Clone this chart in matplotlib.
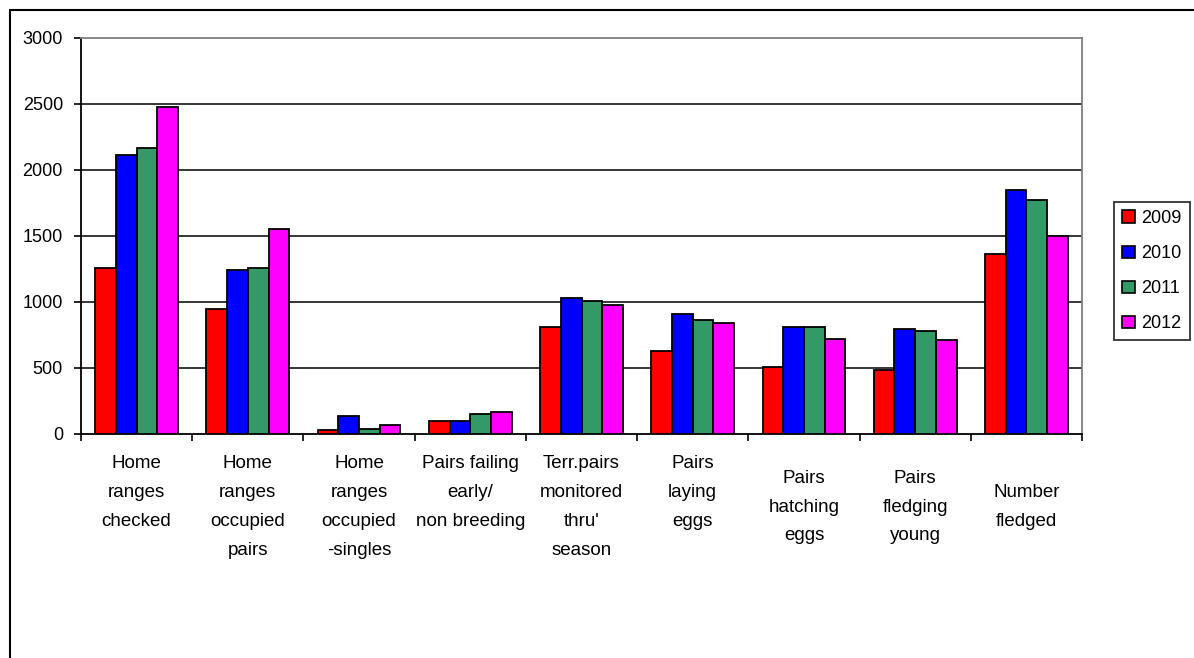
import matplotlib
matplotlib.use("Agg")
import matplotlib.pyplot as plt
import numpy as np
from matplotlib.patches import Patch, Rectangle
from matplotlib.transforms import blended_transform_factory

plt.rcParams["font.family"] = ["Liberation Sans", "DejaVu Sans"]

# 各カテゴリ（改行は表示用）
categories = [
    "Home\nranges\nchecked\n",
    "Home\nranges\noccupied\npairs",
    "Home\nranges\noccupied\n-singles",
    "Pairs failing\nearly/\nnon breeding\n",
    "Terr.pairs\nmonitored\nthru'\nseason",
    "Pairs\nlaying\neggs\n",
    "Pairs\nhatching\neggs",
    "Pairs\nfledging\nyoung",
    "Number\nfledged",
]
years = ["2009", "2010", "2011", "2012"]
v2009 = [1260, 950, 30, 100, 808, 626, 511, 488, 1362]
v2010 = [2110, 1245, 140, 100, 1034, 906, 809, 794, 1845]
v2011 = [2165, 1260, 40, 155, 1004, 866, 809, 779, 1770]
v2012 = [2480, 1556, 70, 170, 975, 838, 722, 710, 1500]
colors = ["#FF0000", "#0000FF", "#339966", "#FF00FF"]

W, H = 1194, 658
fig = plt.figure(figsize=(W / 100, H / 100), dpi=100)
ax = fig.add_axes([81 / W, 1 - 434 / H, 1001 / W, 396 / H])

# 棒グラフ
x = np.arange(len(categories)) + 0.5
bw = 0.186
for i, vals in enumerate([v2009, v2010, v2011, v2012]):
    ax.bar(x + (i - 1.5) * bw, vals, width=bw, color=colors[i],
           edgecolor="black", linewidth=1.3, zorder=3)

ax.set_xlim(0, len(categories))
ax.set_ylim(0, 3000)
ax.set_yticks(np.arange(0, 3001, 500))
ax.set_xticks(np.arange(0, len(categories) + 1))
ax.set_xticklabels([])
ax.tick_params(axis="y", direction="out", length=5, width=1.2, pad=8, labelsize=13)
ax.tick_params(axis="x", direction="out", length=5, width=1.2)

# 目盛線
for yv in range(500, 3000, 500):
    ax.axhline(yv, color="black", lw=1.1, zorder=1)

ax.spines["left"].set_color("black")
ax.spines["bottom"].set_color("black")
ax.spines["top"].set_color("#808080")
ax.spines["right"].set_color("#808080")
for s in ax.spines.values():
    s.set_linewidth(1.3)

# カテゴリ名
trans = blended_transform_factory(ax.transData, fig.transFigure)
for xi, lab in zip(x, categories):
    ax.text(xi, 1 - 507 / H, lab, transform=trans, ha="center", va="center",
            multialignment="center", fontsize=13.5, linespacing=1.9)

# 凡例
handles = [Patch(facecolor=c, edgecolor="black", linewidth=1.2) for c in colors]
leg = fig.legend(handles, years, loc="upper left",
                 bbox_to_anchor=(1114 / W, 1 - 202 / H), borderaxespad=0,
                 fancybox=False, frameon=True, fontsize=13,
                 handlelength=0.7, handleheight=0.7, handletextpad=0.35,
                 labelspacing=1.0, borderpad=0.45)
leg.get_frame().set_edgecolor("black")
leg.get_frame().set_linewidth(1.3)

# 外枠
fig.add_artist(Rectangle((10 / W, -0.1), 1.2, 1.1 - 10 / H,
                         transform=fig.transFigure, fill=False,
                         edgecolor="black", linewidth=1.5))

fig.savefig("out.png", dpi=100)
